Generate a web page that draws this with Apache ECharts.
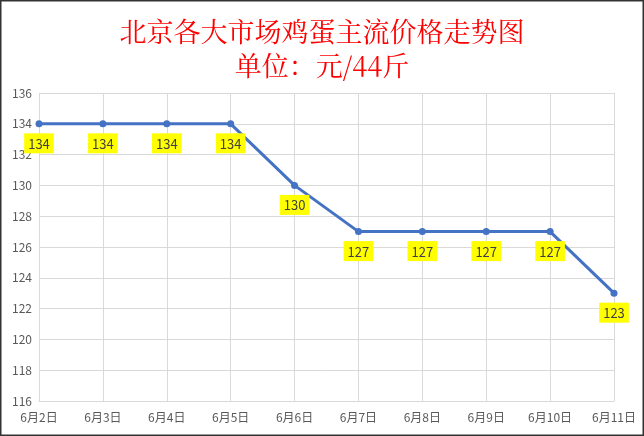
<!DOCTYPE html>
<html><head><meta charset="utf-8">
<script src="https://cdn.jsdelivr.net/npm/echarts@6/dist/echarts.min.js"></script>
<style>html,body{margin:0;padding:0;background:#fff}#c{width:644px;height:436px}</style>
</head><body><div id="c"></div>
<script>
var titleLine1 = '北京各大市场鸡蛋主流价格走势图';
var titleLine2 = '单位：元/44斤';
var categories = ['6月2日','6月3日','6月4日','6月5日','6月6日','6月7日','6月8日','6月9日','6月10日','6月11日'];
var prices = [134,134,134,134,130,127,127,127,127,123];
var yMin = 116, yMax = 136, yStep = 2;

var chart = echarts.init(document.getElementById('c'));
chart.setOption({
  animation:false,
  backgroundColor:'#fff',
  title:{
    text: titleLine1 + '\n' + titleLine2,
    left:'center', top:10,
    textStyle:{color:'#ff0000', fontSize:27, fontWeight:'normal', fontFamily:'"Noto Serif CJK SC","Noto Sans CJK SC",serif', lineHeight:34}
  },
  graphic:[{type:'rect', shape:{x:0.75,y:0.75,width:642.5,height:434.5}, style:{fill:'none', stroke:'#333333', lineWidth:1.5}, silent:true}],
  grid:{left:39, right:30, top:93, bottom:35},
  xAxis:{
    type:'category', data:categories, boundaryGap:false,
    axisLine:{show:true, lineStyle:{color:'#d9d9d9'}},
    axisTick:{show:false},
    splitLine:{show:true, lineStyle:{color:'#d9d9d9'}},
    axisLabel:{color:'#595959', fontSize:12, margin:10, fontFamily:'"Noto Sans CJK SC",sans-serif'}
  },
  yAxis:{
    type:'value', min:yMin, max:yMax, interval:yStep,
    axisLine:{show:false}, axisTick:{show:false},
    splitLine:{lineStyle:{color:'#d9d9d9'}},
    axisLabel:{color:'#595959', fontSize:12, margin:7, fontFamily:'"Noto Sans CJK SC",sans-serif'}
  },
  series:[{
    type:'line', data:prices,
    symbol:'circle', symbolSize:7,
    lineStyle:{color:'#4472c4', width:3},
    itemStyle:{color:'#4472c4'},
    label:{show:true, position:'bottom', distance:6, color:'#404040', fontSize:13,
      backgroundColor:'#ffff00', padding:[4,4,3,4], fontFamily:'"Noto Sans CJK SC",sans-serif'}
  }]
});
</script></body></html>
